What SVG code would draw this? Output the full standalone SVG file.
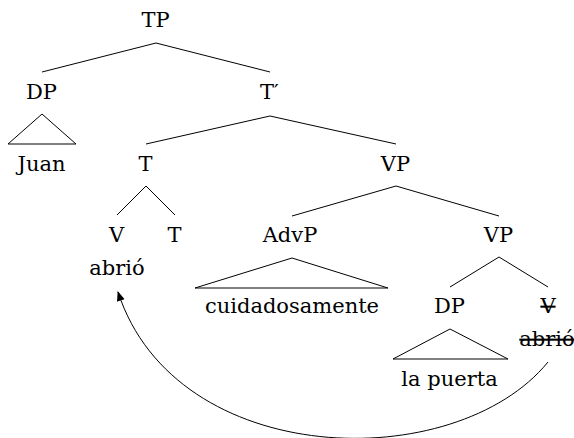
<svg xmlns="http://www.w3.org/2000/svg" width="574" height="438" viewBox="0 0 574 438">
<style>
.e{stroke:#000;stroke-width:1;fill:none}
.s{text-decoration:line-through}
</style>
<defs>
<marker id="ah" viewBox="0 0 10 10" refX="9" refY="5" markerWidth="10" markerHeight="10" markerUnits="userSpaceOnUse" orient="auto">
<path d="M0,1 L10,5 L0,9 Z" fill="#000"/>
</marker>
</defs>
<rect width="574" height="438" fill="#fff"/>
<g id="edges" class="e">
<line x1="156" y1="43" x2="42" y2="72"/>
<line x1="156" y1="43" x2="270" y2="72"/>
<polygon points="42,114 8,144 76,144"/>
<line x1="270" y1="116" x2="146" y2="144"/>
<line x1="270" y1="116" x2="396" y2="144"/>
<line x1="146" y1="186" x2="117" y2="215"/>
<line x1="146" y1="186" x2="175" y2="215"/>
<line x1="396" y1="186" x2="292" y2="216"/>
<line x1="396" y1="186" x2="499" y2="216"/>
<polygon points="292,258 195,288 388,288"/>
<line x1="499" y1="257" x2="450" y2="287"/>
<line x1="499" y1="257" x2="548" y2="287"/>
<polygon points="450,329 393,359 508,359"/>
<path d="M548,362 C455,476 176,470 118,292" marker-end="url(#ah)"/>
</g>
<g font-family="'DejaVu Serif', serif" font-size="21" text-anchor="middle" fill="#000">
<g id="TP"><text x="155.5" y="27">TP</text></g>
<g id="DP1"><text x="41.5" y="99">DP</text></g>
<g id="Tbar"><text x="269.5" y="99">T′</text></g>
<g id="Juan"><text x="41.5" y="171">Juan</text></g>
<g id="T1"><text x="145.5" y="171">T</text></g>
<g id="VP1"><text x="395.5" y="171">VP</text></g>
<g id="V1"><text x="116.5" y="242">V</text><text x="117" y="275">abrió</text></g>
<g id="T2"><text x="174.5" y="242">T</text></g>
<g id="AdvP"><text x="290" y="242">AdvP</text></g>
<g id="VP2"><text x="498.5" y="242">VP</text></g>
<g id="cuid"><text x="292" y="313">cuidadosamente</text></g>
<g id="DP2"><text x="449.5" y="313">DP</text></g>
<g id="V2"><text class="s" x="548" y="313">V</text><text class="s" x="547" y="346">abrió</text></g>
<g id="lapuerta"><text x="449.5" y="386">la puerta</text></g>
</g>
</svg>
